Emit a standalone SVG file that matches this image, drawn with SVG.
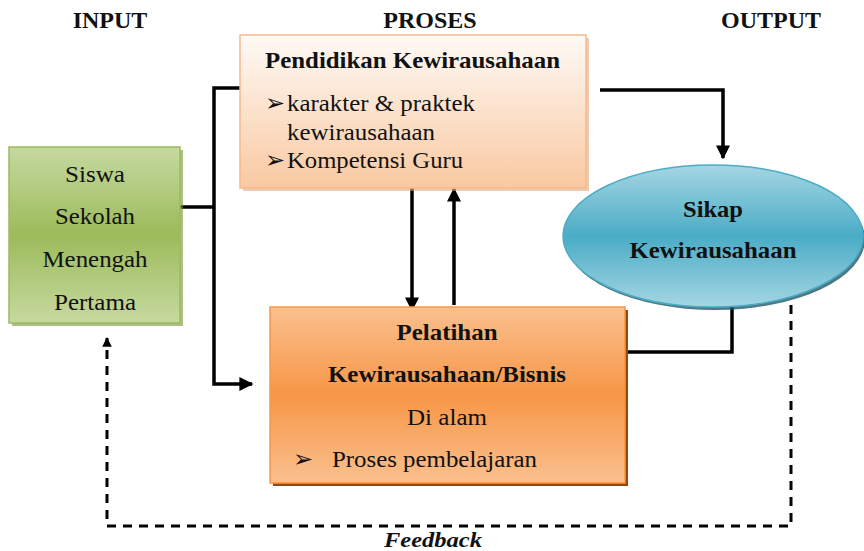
<svg xmlns="http://www.w3.org/2000/svg" width="864" height="551" viewBox="0 0 864 551">
<defs>
<linearGradient id="gGreen" x1="0" y1="0" x2="0" y2="1">
<stop offset="0" stop-color="#c6d9a0"/><stop offset="0.5" stop-color="#9cbb5a"/><stop offset="1" stop-color="#c6d9a0"/>
</linearGradient>
<linearGradient id="gPeach" x1="0" y1="0" x2="0" y2="1">
<stop offset="0" stop-color="#fefaf6"/><stop offset="1" stop-color="#f9c9a1"/>
</linearGradient>
<linearGradient id="gOrange" x1="0" y1="0" x2="0" y2="1">
<stop offset="0" stop-color="#fac08f"/><stop offset="0.5" stop-color="#f79646"/><stop offset="1" stop-color="#fac08f"/>
</linearGradient>
<linearGradient id="gBlue" x1="0" y1="0" x2="0" y2="1">
<stop offset="0" stop-color="#a5d6e3"/><stop offset="0.5" stop-color="#4aacc6"/><stop offset="1" stop-color="#a5d6e3"/>
</linearGradient>
<marker id="arr" viewBox="0 0 10 10" refX="9" refY="5" markerWidth="4" markerHeight="4" orient="auto" markerUnits="strokeWidth">
<path d="M0,0 L10,5 L0,10 z" fill="#000"/>
</marker>
<marker id="arrS" viewBox="0 0 10 10" refX="9" refY="5" markerWidth="3.2" markerHeight="3.2" orient="auto" markerUnits="strokeWidth">
<path d="M0,0 L10,5 L0,10 z" fill="#000"/>
</marker>
</defs>
<style>
text{font-family:"Liberation Serif","Times New Roman","DejaVu Serif",serif;fill:#111}
.h{font-size:24px;font-weight:bold}
.t{font-size:23px}
.b{font-size:23px;font-weight:bold}
.bul{font-family:"DejaVu Sans",sans-serif;font-size:24px;font-weight:bold}
.ln{fill:none;stroke:#000;stroke-width:3.5}
.dash{fill:none;stroke:#000;stroke-width:3;stroke-dasharray:9 7}
</style>
<rect width="864" height="551" fill="#fff"/>
<g id="headers">
<text class="h" x="110" y="28" text-anchor="middle">INPUT</text>
<text class="h" x="430" y="28" text-anchor="middle">PROSES</text>
<text class="h" x="771" y="28" text-anchor="middle">OUTPUT</text>
</g>
<g id="connectors">
<polyline class="ln" points="180,207 214,207"/>
<polyline class="ln" points="240,88 214,88 214,384 252,384" marker-end="url(#arr)"/>
<polyline class="ln" points="412,187 412,310" marker-end="url(#arr)"/>
<polyline class="ln" points="454,305 454,189" marker-end="url(#arr)"/>
<polyline class="ln" points="600,90 723,90 723,158" marker-end="url(#arr)"/>
<polyline class="ln" points="732,305 732,352 627,352"/>
<polyline class="dash" points="791,305 791,526 107,526 107,338" marker-end="url(#arrS)"/>
<text x="433" y="547" text-anchor="middle" textLength="98" lengthAdjust="spacingAndGlyphs" style="font-size:22px;font-weight:bold;font-style:italic">Feedback</text>
</g>
<g id="input-node">
<rect x="12" y="150" width="171" height="176" fill="#76923c" opacity="0.6"/>
<rect x="9" y="147" width="171" height="176" fill="url(#gGreen)" stroke="#9bbb59" stroke-width="1.5"/>
<text class="t" x="95" y="182" text-anchor="middle" textLength="60" lengthAdjust="spacingAndGlyphs">Siswa</text>
<text class="t" x="95" y="224" text-anchor="middle" textLength="80" lengthAdjust="spacingAndGlyphs">Sekolah</text>
<text class="t" x="95" y="267" text-anchor="middle" textLength="105" lengthAdjust="spacingAndGlyphs">Menengah</text>
<text class="t" x="95" y="310" text-anchor="middle" textLength="82" lengthAdjust="spacingAndGlyphs">Pertama</text>
</g>
<g id="pendidikan-node">
<rect x="243" y="38" width="346" height="153" fill="#e0a880" opacity="0.6"/>
<rect x="240" y="35" width="346" height="153" fill="url(#gPeach)" stroke="#f8b98c" stroke-width="1.5"/>
<text class="b" x="265" y="68" textLength="295" lengthAdjust="spacingAndGlyphs">Pendidikan Kewirausahaan</text>
<text class="bul" x="265" y="111">➢</text>
<text class="t" x="287" y="111" textLength="188" lengthAdjust="spacingAndGlyphs">karakter &amp; praktek</text>
<text class="t" x="287" y="140" textLength="148" lengthAdjust="spacingAndGlyphs">kewirausahaan</text>
<text class="bul" x="265" y="168">➢</text>
<text class="t" x="287" y="168" textLength="176" lengthAdjust="spacingAndGlyphs">Kompetensi Guru</text>
</g>
<g id="pelatihan-node">
<rect x="273" y="310" width="355" height="176" fill="#984807"/>
<rect x="270" y="307" width="355" height="176" fill="url(#gOrange)" stroke="#f79646" stroke-width="1.5"/>
<text class="b" x="447" y="340" text-anchor="middle" textLength="101" lengthAdjust="spacingAndGlyphs">Pelatihan</text>
<text class="b" x="447" y="382" text-anchor="middle" textLength="238" lengthAdjust="spacingAndGlyphs">Kewirausahaan/Bisnis</text>
<text class="t" x="447" y="425" text-anchor="middle" textLength="80" lengthAdjust="spacingAndGlyphs">Di alam</text>
<text class="bul" x="293" y="467">➢</text>
<text class="t" x="332" y="467" textLength="205" lengthAdjust="spacingAndGlyphs">Proses pembelajaran</text>
</g>
<g id="sikap-node">
<ellipse cx="715" cy="239" rx="150" ry="71" fill="#215968" opacity="0.8"/>
<ellipse cx="713" cy="236" rx="150" ry="71" fill="url(#gBlue)" stroke="#4bacc6" stroke-width="1.5"/>
<text class="b" x="713" y="217" text-anchor="middle" textLength="60" lengthAdjust="spacingAndGlyphs">Sikap</text>
<text class="b" x="713" y="258" text-anchor="middle" textLength="167" lengthAdjust="spacingAndGlyphs">Kewirausahaan</text>
</g>
</svg>
